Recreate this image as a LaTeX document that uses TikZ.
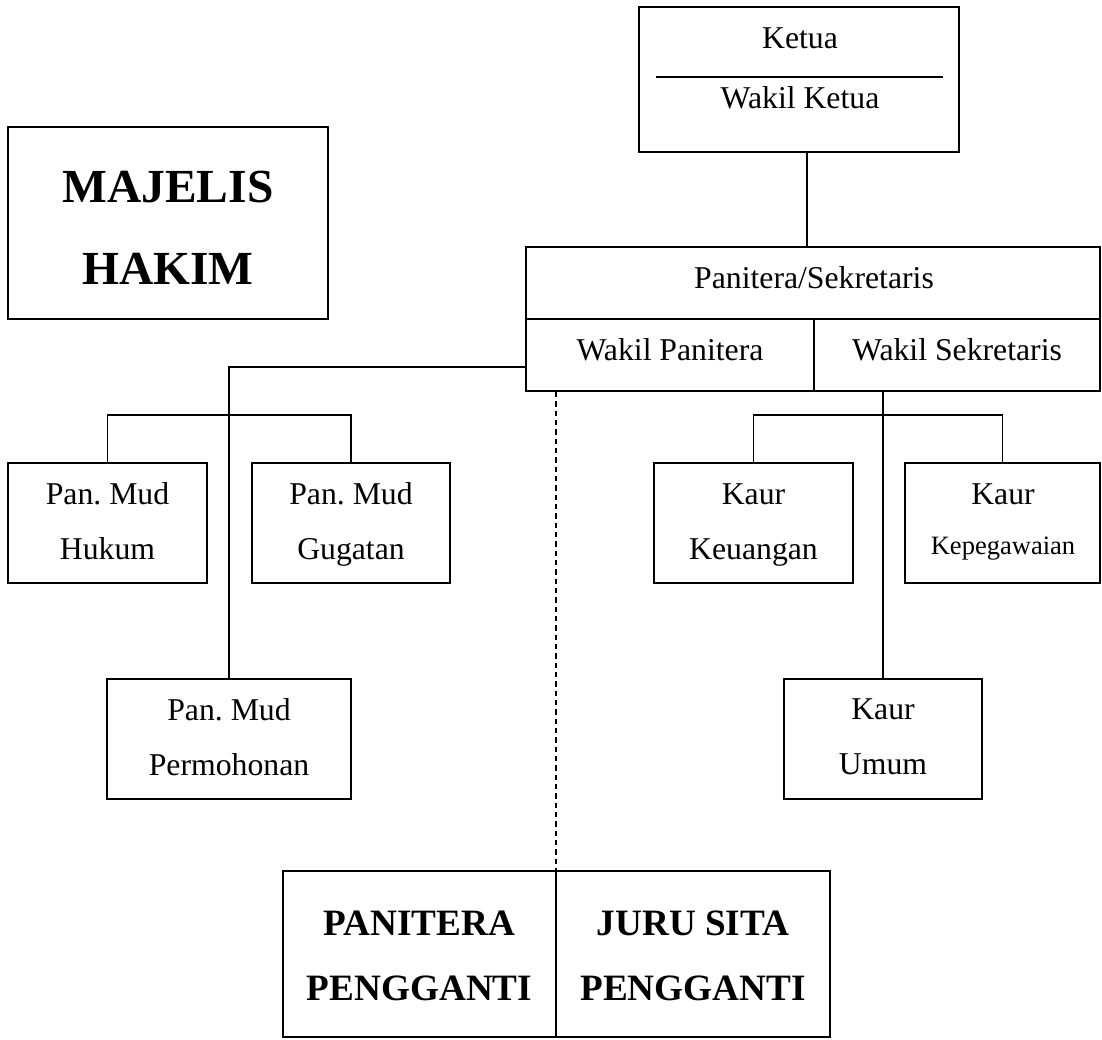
\documentclass[tikz,border=0pt]{standalone}
\usepackage{fontspec}
\setmainfont{Liberation Serif}
\frenchspacing
\begin{document}
\begin{tikzpicture}[x=0.75pt,y=-0.75pt,
  box/.style={draw, line width=1.4pt, rectangle, inner sep=0pt},
  conn/.style={line width=1.4pt},
  lbl/.style={inner sep=0pt, anchor=base, font=\fontsize{23.8}{28}\selectfont},
  lblsmall/.style={inner sep=0pt, anchor=base, font=\fontsize{19.9}{24}\selectfont},
  bigbold/.style={inner sep=0pt, anchor=base, font=\fontsize{35.6}{40}\selectfont\bfseries},
  midbold/.style={inner sep=0pt, anchor=base, font=\fontsize{27.9}{32}\selectfont\bfseries}]
\useasboundingbox (0,0) rectangle (1102,1039);
% boxes
\node[box, minimum width=240pt, minimum height=108.75pt] (ketua) at (799,79.5) {};
\node[box, minimum width=430.5pt, minimum height=108pt] (panitera) at (813,319) {};
\node[box, minimum width=240pt, minimum height=144pt] (majelis) at (168,223) {};
\node[box, minimum width=149.25pt, minimum height=90pt] (hukum) at (107.5,523) {};
\node[box, minimum width=148.5pt, minimum height=90pt] (gugatan) at (351,523) {};
\node[box, minimum width=183pt, minimum height=90pt] (permo) at (229,739) {};
\node[box, minimum width=149.25pt, minimum height=90pt] (keu) at (753.5,523) {};
\node[box, minimum width=146.25pt, minimum height=90pt] (kep) at (1002.5,523) {};
\node[box, minimum width=148.5pt, minimum height=90pt] (umum) at (883,739) {};
\node[box, minimum width=204.75pt, minimum height=124.5pt] (pp) at (419.5,954) {};
\node[box, minimum width=205.5pt, minimum height=124.5pt] (js) at (693,954) {};
% inner lines
\coordinate (kl1) at (656,77);
\coordinate (kl2) at (943,77);
\draw[line width=2pt] (kl1) -- (kl2);
\draw[conn] (panitera.west) -- (panitera.east);
\coordinate (dv) at (814,0);
\draw[conn] (panitera.center -| dv) -- (panitera.south -| dv);
% texts
\node[lbl] (tketua) at (800,48) {Ketua};
\node[lbl] (twketua) at (800,108) {Wakil Ketua};
\node[lbl] (tpan) at (814,288) {Panitera/Sekretaris};
\node[lbl] (twpan) at (670,360) {Wakil Panitera};
\node[lbl] (twsek) at (957,360) {Wakil Sekretaris};
\node[bigbold] (tmaj) at (168,202) {MAJELIS};
\node[bigbold] (thak) at (168,284) {HAKIM};
\node[lbl] (th1) at (107.5,504) {Pan. Mud};
\node[lbl] (th2) at (107.5,559) {Hukum};
\node[lbl] (tg1) at (351,504) {Pan. Mud};
\node[lbl] (tg2) at (351,559) {Gugatan};
\node[lbl] (tp1) at (229,720) {Pan. Mud};
\node[lbl] (tp2) at (229,775) {Permohonan};
\node[lbl] (tk1) at (753.5,504) {Kaur};
\node[lbl] (tk2) at (753.5,559) {Keuangan};
\node[lbl] (te1) at (1003,504) {Kaur};
\node[lblsmall] (te2) at (1003,554) {Kepegawaian};
\node[lbl] (tu1) at (883,719) {Kaur};
\node[lbl] (tu2) at (883,774) {Umum};
\node[midbold] (tpp1) at (419.5,935) {PANITERA};
\node[midbold] (tpp2) at (419.5,1000) {PENGGANTI};
\node[midbold] (tjs1) at (693,935) {JURU SITA};
\node[midbold] (tjs2) at (693,1000) {PENGGANTI};
% connectors
\coordinate (kx) at (807,0);
\draw[conn] (ketua.south -| kx) -- (panitera.north -| kx);
\coordinate (lv) at (0,367);
\draw[conn] (panitera.west |- lv) -| (permo.north);
\coordinate (lbar) at (0,415);
\draw[conn] (hukum.north) -- (hukum.north |- lbar) -- (gugatan.north |- lbar) -- (gugatan.north);
\coordinate (rbar) at (0,415);
\draw[conn] (panitera.south -| umum.north) -- (umum.north);
\draw[conn] (keu.north) -- (keu.north |- rbar) -- (kep.north |- rbar) -- (kep.north);
\coordinate (dx) at (556,0);
\draw[conn, dash pattern=on 4pt off 3pt] (panitera.south -| dx) -- (pp.north -| dx);
\end{tikzpicture}
\end{document}
